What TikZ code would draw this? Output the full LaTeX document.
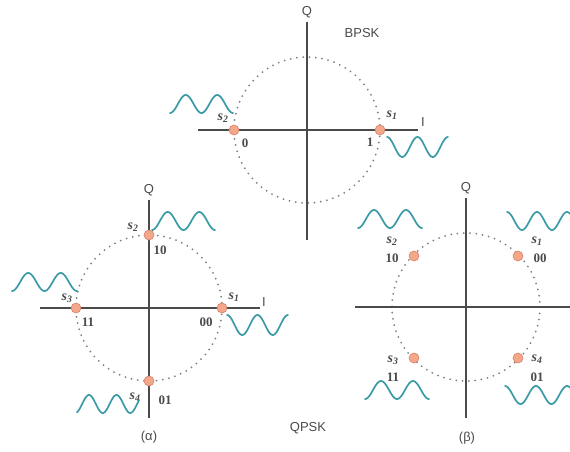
\documentclass[tikz,border=0pt]{standalone}
\usepackage{fontspec}
\setmainfont{Liberation Serif}
\setsansfont{Liberation Sans}
\definecolor{axisgray}{HTML}{4A4A4A}
\definecolor{dotgray}{HTML}{7E7E7E}
\definecolor{wavecol}{HTML}{3A9BA6}
\definecolor{ptfill}{HTML}{F3A88A}
\definecolor{ptdraw}{HTML}{D9806A}
\begin{document}
\begin{tikzpicture}[x=1pt,y=-1pt,
  axis/.style={draw=axisgray,line width=1.4pt},
  ring/.style={draw=dotgray,line width=2pt,line cap=round,dash pattern=on 0pt off 6.3pt},
  wave/.style={draw=wavecol,line width=1.7pt,line cap=round},
  pt/.style={circle,fill=ptfill,draw=ptdraw,line width=0.6pt,minimum size=10pt,inner sep=0pt},
  sym/.style={font=\fontsize{14}{14}\selectfont\itshape\bfseries,text=axisgray,inner sep=0pt},
  bits/.style={font=\fontsize{13}{13}\selectfont\bfseries,text=axisgray,inner sep=0pt},
  lab/.style={font=\fontsize{13}{13}\sffamily,text=axisgray,inner sep=0pt}]
\useasboundingbox (0,0) rectangle (570,452);

% ---------- BPSK ----------
\coordinate (bT) at (307,22); \coordinate (bB) at (307,240);
\coordinate (bL) at (198,130); \coordinate (bR) at (418,130);
\coordinate (bO) at (307,130);
\draw[ring] (bO) circle[radius=73];
\draw[axis] (bT) -- (bB);
\draw[axis] (bL) -- (bR);
\node[lab] (bQ) at (307,12) {Q};
\node[lab] (bI) at (423,122) {I};
\node[lab] (bpsk) at (362,33) {BPSK};
\node[pt] (b1) at (380,130) {};
\node[pt] (b2) at (234,130) {};
\node[sym] (bs2) at (223,118) {s\textsubscript{2}};
\node[bits] (b0l) at (245,143) {0};
\node[sym] (bs1) at (392,115) {s\textsubscript{1}};
\node[bits] (b1l) at (370,142) {1};
\draw[wave] plot[domain=170:233,samples=80] (\x,{104+9*cos((\x-170)/31.5*360)});
\draw[wave] plot[domain=387:448,samples=80] (\x,{147-10*cos((\x-387)/30.5*360)});

% ---------- QPSK (a) ----------
\coordinate (aT) at (149,200); \coordinate (aB) at (149,418);
\coordinate (aL) at (40,308); \coordinate (aR) at (260,308);
\coordinate (aO) at (149,308);
\draw[ring] (aO) circle[radius=73];
\draw[axis] (aT) -- (aB);
\draw[axis] (aL) -- (aR);
\node[lab] (aQ) at (149,190) {Q};
\node[lab] (aI) at (264,302) {I};
\node[pt] (a1) at (222,308) {};
\node[pt] (a2) at (149,235) {};
\node[pt] (a3) at (76,308) {};
\node[pt] (a4) at (149,381) {};
\node[sym] (as2) at (133,227) {s\textsubscript{2}};
\node[bits] (a10) at (160,250) {10};
\node[sym] (as3) at (67,298) {s\textsubscript{3}};
\node[bits] (a11) at (88,322) {11};
\node[sym] (as1) at (234,297) {s\textsubscript{1}};
\node[bits] (a00) at (206,322) {00};
\node[sym] (as4) at (135,397) {s\textsubscript{4}};
\node[bits] (a01) at (165,400) {01};
\node[lab] (acap) at (149,437) {(α)};
\draw[wave] plot[domain=152:215,samples=80] (\x,{221+9*cos((\x-152)/31.5*360)});
\draw[wave] plot[domain=12:77,samples=80] (\x,{282+9*cos((\x-12)/32.5*360)});
\draw[wave] plot[domain=227:288,samples=80] (\x,{325-10*cos((\x-227)/30.5*360)});
\draw[wave] plot[domain=77:139,samples=80] (\x,{404-9*cos((\x-89)/27.5*360)});

\node[lab] (qpsk) at (308,428) {QPSK};

% ---------- QPSK (b) ----------
\coordinate (cT) at (466,198); \coordinate (cB) at (466,418);
\coordinate (cL) at (355,307); \coordinate (cR) at (570,307);
\coordinate (cO) at (466,307);
\draw[ring] (cO) circle[radius=74];
\draw[axis] (cT) -- (cB);
\draw[axis] (cL) -- (cR);
\node[lab] (cQ) at (466,188) {Q};
\node[pt] (c1) at (518,256) {};
\node[pt] (c2) at (414,256) {};
\node[pt] (c3) at (414,358) {};
\node[pt] (c4) at (518,358) {};
\node[sym] (cs2) at (392,241) {s\textsubscript{2}};
\node[bits] (c10) at (392,258) {10};
\node[sym] (cs1) at (537,241) {s\textsubscript{1}};
\node[bits] (c00) at (540,258) {00};
\node[sym] (cs3) at (393,360) {s\textsubscript{3}};
\node[bits] (c11) at (393,377) {11};
\node[sym] (cs4) at (537,359) {s\textsubscript{4}};
\node[bits] (c01) at (537,377) {01};
\node[lab] (ccap) at (467,438) {(β)};
\draw[wave] plot[domain=358:422,samples=80] (\x,{219+9*cos((\x-358)/32*360)});
\draw[wave] plot[domain=507:570,samples=80] (\x,{221-9*cos((\x-507)/30*360)});
\draw[wave] plot[domain=365:429,samples=80] (\x,{390+9*cos((\x-365)/32*360)});
\draw[wave] plot[domain=505:570,samples=80] (\x,{395-9*cos((\x-505)/31*360)});
\end{tikzpicture}
\end{document}
